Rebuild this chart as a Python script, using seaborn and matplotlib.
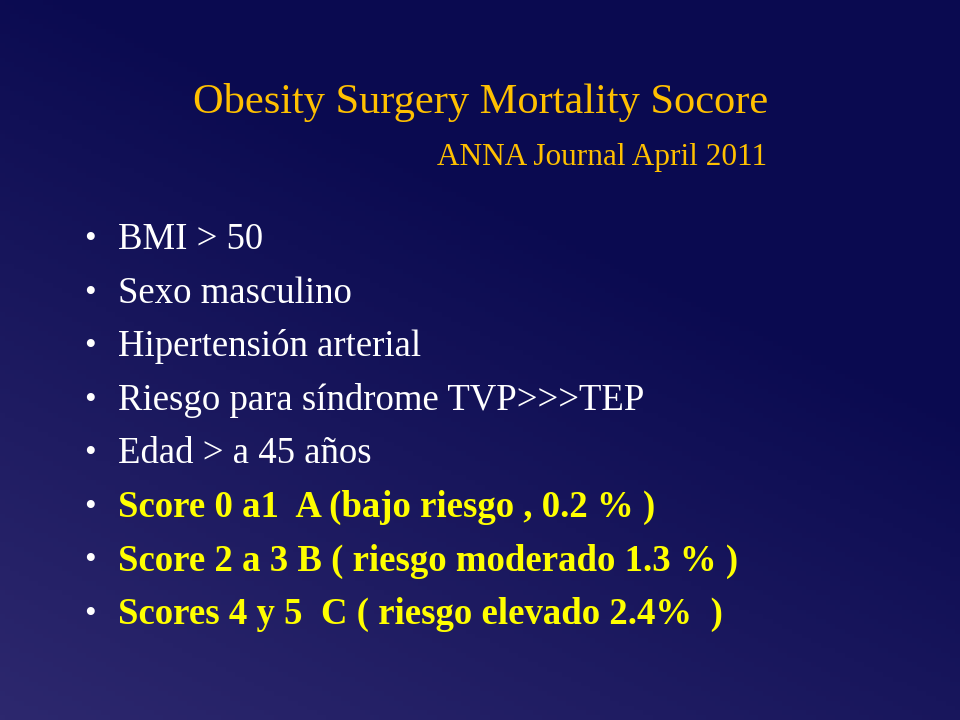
import numpy as np
import matplotlib
matplotlib.use("Agg")
import matplotlib.pyplot as plt
import seaborn as sns

sns.set_style("white")

title = "Obesity Surgery Mortality Socore"
subtitle = "ANNA Journal April 2011"
items = [
    "BMI > 50",
    "Sexo masculino",
    "Hipertensión arterial",
    "Riesgo para síndrome TVP>>>TEP",
    "Edad > a 45 años",
    "Score 0 a1  A (bajo riesgo , 0.2 % )",
    "Score 2 a 3 B ( riesgo moderado 1.3 % )",
    "Scores 4 y 5  C ( riesgo elevado 2.4%  )",
]
bold_flags = [False, False, False, False, False, True, True, True]

fig = plt.figure(figsize=(9.6, 7.2), dpi=100)
ax = fig.add_axes([0, 0, 1, 1])
ax.set_xlim(0, 960)
ax.set_ylim(720, 0)
ax.axis("off")

# background: dark navy, lighter toward bottom-left
xx, yy = np.meshgrid(np.linspace(0, 1, 200), np.linspace(0, 1, 150))
t = np.clip((yy * 0.8 + (1 - xx) * 0.5) - 0.45, 0, 1) / 0.85
top = np.array([10, 10, 80]) / 255
bot = np.array([45, 40, 110]) / 255
img = top + (bot - top) * t[..., None]
ax.imshow(img, extent=(0, 960, 720, 0), aspect="auto", zorder=0)

serif = "Liberation Serif"
ax.text(481, 102, title, color="#FFC000", fontsize=30.5, family=serif,
        ha="center", va="center")
ax.text(767, 157, subtitle, color="#FFC000", fontsize=22.5, family=serif,
        ha="right", va="center")

y0, dy = 240, 53.5
for i, (txt, b) in enumerate(zip(items, bold_flags)):
    y = y0 + i * dy
    col = "#FFFF00" if b else "white"
    ax.text(84, y, "•", color="white", fontsize=24, family=serif,
            ha="left", va="center")
    ax.text(118, y, txt, color=col, fontsize=26.5, family=serif,
            weight="bold" if b else "normal", ha="left", va="center")

fig.savefig("out.png", dpi=100)
